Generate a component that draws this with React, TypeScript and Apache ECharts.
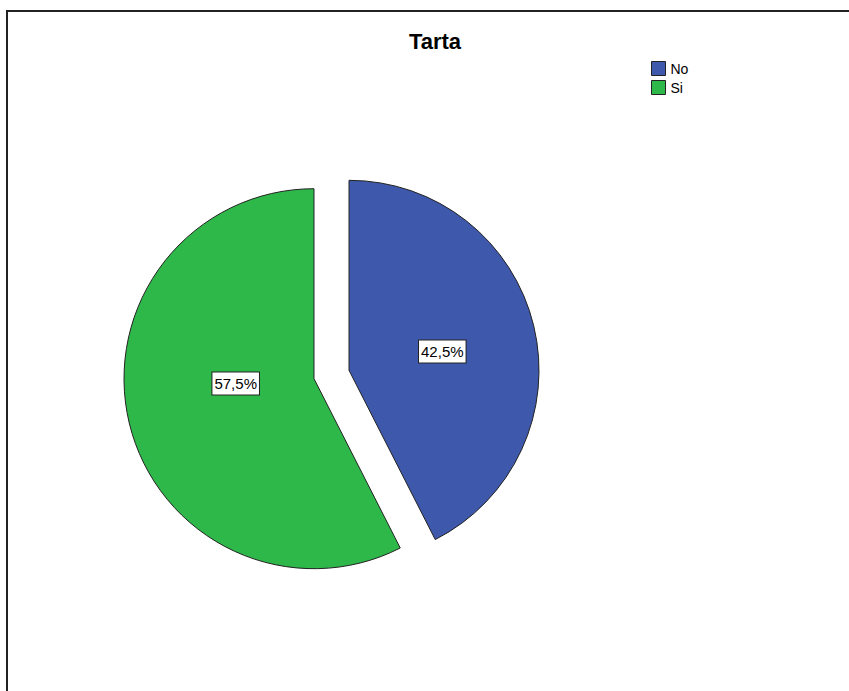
import React, { useEffect, useRef } from "react";
import * as echarts from "echarts";

const titleText = "Tarta";
const categories = ["No", "Si"];
const values = [42.5, 57.5];
const colors = ["#3E58AC", "#2EB84A"];

export default function App() {
  const ref = useRef<HTMLDivElement>(null);
  useEffect(() => {
    if (!ref.current) return;
    const chart = echarts.init(ref.current, null, { renderer: "svg" });
    const fmt = (p: any) => p.value.toFixed(1).replace(".", ",") + "%";
    const labelShift = [
      [-2, 4],
      [17, -18],
    ];
    chart.setOption({
      animation: false,
      backgroundColor: "#ffffff",
      title: {
        text: titleText,
        left: 430,
        top: 25,
        textAlign: "center",
        textStyle: { fontFamily: "Liberation Sans", fontWeight: "bold", fontSize: 22, color: "#000" },
      },
      legend: {
        orient: "vertical",
        left: 646,
        top: 56,
        itemWidth: 14,
        itemHeight: 14,
        itemGap: 4,
        icon: "rect",
        selectedMode: false,
        data: categories,
        itemStyle: { borderColor: "#222", borderWidth: 1 },
        textStyle: { fontFamily: "Liberation Sans", fontSize: 14, lineHeight: 14, color: "#000" },
      },
      graphic: [
        {
          type: "rect",
          shape: { x: 7, y: 11, width: 1000, height: 1000 },
          style: { fill: "none", stroke: "#222", lineWidth: 2 },
          silent: true,
        },
      ],
      series: [
        {
          type: "pie",
          center: [331.5, 374.5],
          radius: [0, 190],
          startAngle: 90,
          clockwise: true,
          selectedMode: "multiple",
          selectedOffset: 18,
          emphasis: { disabled: true },
          select: { itemStyle: { borderColor: "#222", borderWidth: 1 } },
          itemStyle: { borderColor: "#222", borderWidth: 1 },
          labelLine: { show: false },
          label: {
            show: true,
            position: "inside",
            formatter: fmt,
            fontFamily: "Liberation Sans",
            fontSize: 15,
            color: "#000",
            backgroundColor: "#fff",
            borderColor: "#222",
            borderWidth: 1,
            padding: [4, 2, 3, 2],
          },
          labelLayout: (p: any) => ({ dx: labelShift[p.dataIndex][0], dy: labelShift[p.dataIndex][1] }),
          data: categories.map((c, i) => ({
            name: c,
            value: values[i],
            selected: true,
            itemStyle: { color: colors[i] },
          })),
        },
      ],
    });
    return () => chart.dispose();
  }, []);
  return <div ref={ref} style={{ position: "fixed", left: 0, top: 0, width: 849, height: 691 }} />;
}
